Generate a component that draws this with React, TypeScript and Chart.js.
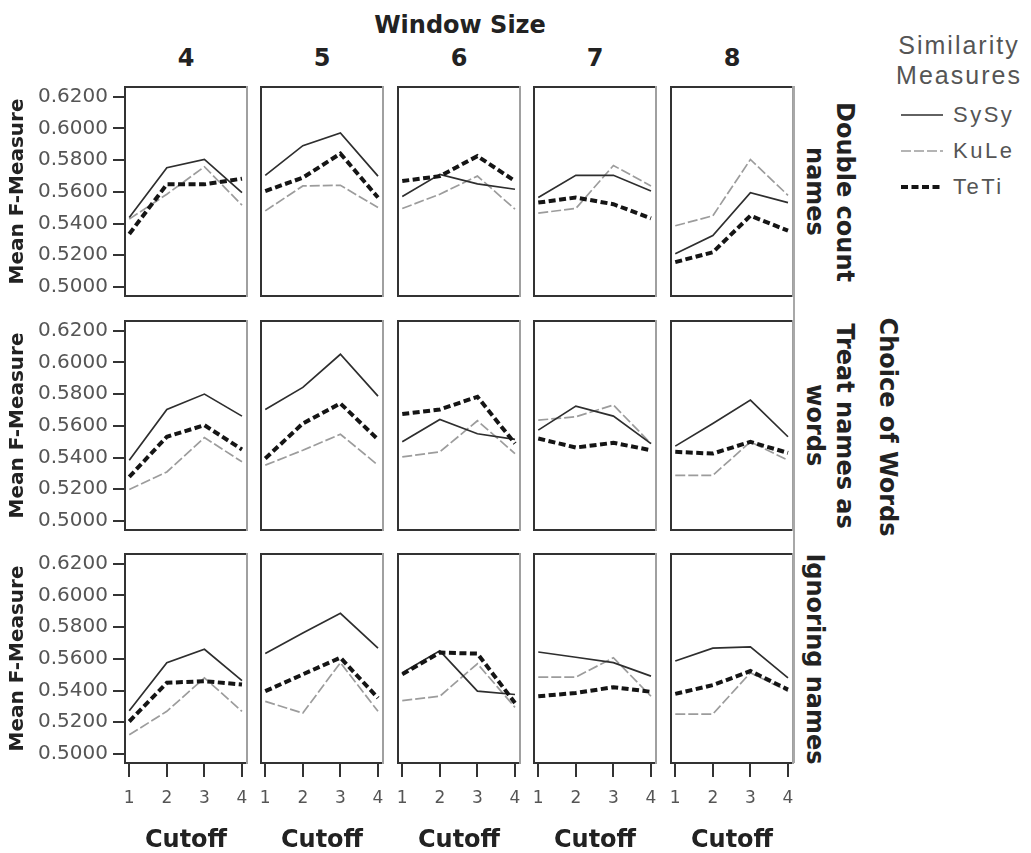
import React, { useEffect, useRef } from 'react';
import { Chart, registerables } from 'chart.js';

Chart.register(...registerables);

// ---------- data ----------
const CUTOFFS = [1, 2, 3, 4];
const WINDOW_SIZES = ['4', '5', '6', '7', '8'];
const ROW_LABELS = [['Double count', 'names'], ['Treat names as', 'words'], ['Ignoring names']];
const Y_TICKS = [0.5, 0.52, 0.54, 0.56, 0.58, 0.6, 0.62];
const SERIES_NAMES = ['SySy', 'KuLe', 'TeTi'];

// Double count names (one row of 4 cutoffs per window size 4..8)
const DOUBLE_SYSY = [
  [0.5438, 0.5752, 0.5804, 0.5595],
  [0.5704, 0.5891, 0.5971, 0.5699],
  [0.5570, 0.5710, 0.5650, 0.5616],
  [0.5564, 0.5704, 0.5704, 0.5605],
  [0.5209, 0.5324, 0.5595, 0.5532],
];
const DOUBLE_KULE = [
  [0.5428, 0.5585, 0.5758, 0.5516],
  [0.5480, 0.5637, 0.5641, 0.5501],
  [0.5495, 0.5585, 0.5699, 0.5491],
  [0.5466, 0.5495, 0.5766, 0.5637],
  [0.5386, 0.5449, 0.5804, 0.5578],
];
const DOUBLE_TETI = [
  [0.5334, 0.5647, 0.5647, 0.5683],
  [0.5605, 0.5689, 0.5841, 0.5564],
  [0.5668, 0.5699, 0.5825, 0.5668],
  [0.5532, 0.5564, 0.5522, 0.5432],
  [0.5157, 0.5219, 0.5449, 0.5355],
];

// Treat names as words
const TREAT_SYSY = [
  [0.5383, 0.5703, 0.5800, 0.5661],
  [0.5703, 0.5842, 0.6051, 0.5787],
  [0.5499, 0.5640, 0.5550, 0.5515],
  [0.5573, 0.5724, 0.5661, 0.5488],
  [0.5472, 0.5615, 0.5762, 0.5531],
];
const TREAT_KULE = [
  [0.5198, 0.5309, 0.5526, 0.5373],
  [0.5352, 0.5446, 0.5547, 0.5352],
  [0.5404, 0.5436, 0.5632, 0.5425],
  [0.5636, 0.5657, 0.5731, 0.5488],
  [0.5288, 0.5288, 0.5499, 0.5383],
];
const TREAT_TETI = [
  [0.5278, 0.5531, 0.5604, 0.5451],
  [0.5394, 0.5615, 0.5741, 0.5514],
  [0.5674, 0.5703, 0.5783, 0.5488],
  [0.5520, 0.5463, 0.5493, 0.5446],
  [0.5436, 0.5425, 0.5499, 0.5429],
];

// Ignoring names
const IGNORE_SYSY = [
  [0.5273, 0.5576, 0.5660, 0.5463],
  [0.5633, 0.5762, 0.5887, 0.5667],
  [0.5512, 0.5650, 0.5396, 0.5375],
  [0.5643, 0.5610, 0.5576, 0.5491],
  [0.5586, 0.5667, 0.5675, 0.5480],
];
const IGNORE_KULE = [
  [0.5121, 0.5269, 0.5480, 0.5269],
  [0.5332, 0.5258, 0.5576, 0.5269],
  [0.5337, 0.5364, 0.5569, 0.5294],
  [0.5485, 0.5485, 0.5607, 0.5364],
  [0.5252, 0.5252, 0.5512, 0.5396],
];
const IGNORE_TETI = [
  [0.5205, 0.5449, 0.5459, 0.5438],
  [0.5396, 0.5502, 0.5607, 0.5353],
  [0.5502, 0.5639, 0.5633, 0.5322],
  [0.5364, 0.5385, 0.5421, 0.5392],
  [0.5379, 0.5434, 0.5523, 0.5406],
];

const ROW_DATA = [
  [DOUBLE_SYSY, DOUBLE_KULE, DOUBLE_TETI],
  [TREAT_SYSY, TREAT_KULE, TREAT_TETI],
  [IGNORE_SYSY, IGNORE_KULE, IGNORE_TETI],
];

// ---------- layout / style ----------
const COL_LEFT = [124, 260, 397, 533, 670];
const ROW_TOP = [86, 320, 553];
const PANEL_W = 124;
const PANEL_H = 211;
const X_AXIS_H = 91;
const X_MIN = 0.86;
const X_MAX = 4.16;
const Y_MIN = 0.4937;
const Y_MAX = 0.6267;

const FONT = 'DejaVu Sans';
const SERIES_STYLE = [
  { color: '#2e2e2e', width: 1.7, dash: [] as number[], order: 1 },
  { color: '#9c9c9c', width: 1.7, dash: [10, 3], order: 2 },
  { color: '#151515', width: 4, dash: [7, 3.5], order: 0 },
];

const framePlugin = {
  id: 'panelFrame',
  afterDatasetsDraw(chart: any) {
    const { ctx, chartArea } = chart;
    const { left, top, right, bottom } = chartArea;
    ctx.save();
    ctx.lineWidth = 2;
    ctx.strokeStyle = '#a0a0a0';
    ctx.beginPath();
    ctx.moveTo(right - 1, top);
    ctx.lineTo(right - 1, bottom);
    ctx.stroke();
    ctx.strokeStyle = '#333333';
    ctx.beginPath();
    ctx.moveTo(right - 2, top + 1);
    ctx.lineTo(left + 1, top + 1);
    ctx.lineTo(left + 1, bottom - 1);
    ctx.lineTo(right - 2, bottom - 1);
    ctx.stroke();
    ctx.restore();
  },
};

function Panel({ row, col }: { row: number; col: number }) {
  const ref = useRef<HTMLCanvasElement>(null);
  const showY = col === 0;
  const showX = row === 2;
  const left = showY ? 0 : COL_LEFT[col];
  const top = ROW_TOP[row];
  const width = COL_LEFT[col] + PANEL_W - left;
  const height = PANEL_H + (showX ? X_AXIS_H : 0);

  useEffect(() => {
    const datasets = SERIES_NAMES.map((name, s) => ({
      label: name,
      data: CUTOFFS.map((c, i) => ({ x: c, y: ROW_DATA[row][s][col][i] })),
      borderColor: SERIES_STYLE[s].color,
      borderWidth: SERIES_STYLE[s].width,
      borderDash: SERIES_STYLE[s].dash,
      borderCapStyle: 'butt' as const,
      borderJoinStyle: 'miter' as const,
      pointRadius: 0,
      tension: 0,
      fill: false,
      order: SERIES_STYLE[s].order,
    }));
    const chart = new Chart(ref.current as HTMLCanvasElement, {
      type: 'line',
      data: { datasets },
      options: {
        animation: false,
        responsive: false,
        maintainAspectRatio: false,
        layout: { padding: 0 },
        plugins: { legend: { display: false }, tooltip: { enabled: false } },
        scales: {
          x: {
            type: 'linear',
            min: X_MIN,
            max: X_MAX,
            display: showX,
            afterBuildTicks: (s: any) => {
              s.ticks = CUTOFFS.map((v) => ({ value: v }));
            },
            afterFit: (s: any) => {
              if (!showX) return;
              s.height = X_AXIS_H;
              s.paddingLeft = 0;
              s.paddingRight = 0;
            },
            ticks: {
              autoSkip: false,
              maxRotation: 0,
              padding: 11,
              color: '#555',
              font: { family: FONT, size: 17 },
              callback: (v: any) => String(v),
            },
            grid: { drawOnChartArea: false, drawTicks: true, tickLength: 13, color: '#333', lineWidth: 2 },
            border: { display: false },
            title: {
              display: true,
              text: 'Cutoff',
              color: '#222',
              font: { family: FONT, size: 24, weight: 'bold' },
              padding: { top: 0, bottom: 0 },
            },
          },
          y: {
            type: 'linear',
            min: Y_MIN,
            max: Y_MAX,
            display: showY,
            afterBuildTicks: (s: any) => {
              s.ticks = Y_TICKS.map((v) => ({ value: v }));
            },
            afterFit: (s: any) => {
              if (!showY) return;
              s.width = COL_LEFT[0];
              s.paddingTop = 0;
              s.paddingBottom = 0;
            },
            ticks: {
              padding: 5,
              color: '#555',
              font: { family: FONT, size: 20 },
              callback: (v: any) => Number(v).toFixed(4),
            },
            grid: { drawOnChartArea: false, drawTicks: true, tickLength: 11, color: '#333', lineWidth: 2 },
            border: { display: false },
            title: {
              display: true,
              text: 'Mean F-Measure',
              color: '#222',
              font: { family: FONT, size: 20, weight: 'bold' },
              padding: { top: 6, bottom: 0 },
            },
          },
        },
      },
      plugins: [framePlugin],
    });
    return () => chart.destroy();
  }, [row, col]);

  return (
    <canvas
      ref={ref}
      width={width}
      height={height}
      style={{ position: 'absolute', left, top, width, height, display: 'block' }}
    />
  );
}

const boldText: React.CSSProperties = {
  position: 'absolute',
  fontFamily: FONT,
  fontWeight: 'bold',
  color: '#222',
  whiteSpace: 'nowrap',
  lineHeight: 1,
};

function LegendSample({ s }: { s: number }) {
  const st = SERIES_STYLE[s];
  return (
    <svg width={44} height={10} style={{ display: 'block' }}>
      <line
        x1={0}
        y1={5}
        x2={42}
        y2={5}
        stroke={st.color}
        strokeWidth={st.width}
        strokeDasharray={st.dash.length ? st.dash.join(' ') : undefined}
      />
    </svg>
  );
}

export default function App() {
  const panels: JSX.Element[] = [];
  for (let r = 0; r < 3; r++) {
    for (let c = 0; c < 5; c++) {
      panels.push(<Panel key={`${r}-${c}`} row={r} col={c} />);
    }
  }
  return (
    <div style={{ position: 'absolute', left: 0, top: 0, width: 1031, height: 853, background: '#fff', overflow: 'hidden' }}>
      {panels}
      {/* long right rule */}
      <div style={{ position: 'absolute', left: 793, top: 86, width: 2, height: 677, background: '#a8a8a8' }} />
      {/* Window size header */}
      <div style={{ ...boldText, fontSize: 24, left: 460, top: 25, transform: 'translate(-50%, -50%)' }}>Window Size</div>
      {WINDOW_SIZES.map((w, i) => (
        <div key={w} style={{ ...boldText, fontSize: 24, left: COL_LEFT[i] + PANEL_W / 2, top: 58, transform: 'translate(-50%, -50%)' }}>
          {w}
        </div>
      ))}
      {/* Row labels */}
      {ROW_LABELS.map((lines, r) => (
        <div
          key={r}
          style={{
            ...boldText,
            fontSize: 24,
            lineHeight: '30px',
            writingMode: 'vertical-rl',
            textAlign: 'center',
            left: 800,
            top: ROW_TOP[r] + PANEL_H / 2,
            transform: 'translateY(-50%)',
          }}
        >
          {lines.map((l, i) => (
            <React.Fragment key={i}>
              {l}
              {i < lines.length - 1 ? <br /> : null}
            </React.Fragment>
          ))}
        </div>
      ))}
      <div
        style={{
          ...boldText,
          fontSize: 24,
          lineHeight: '30px',
          writingMode: 'vertical-rl',
          left: 873,
          top: 427,
          transform: 'translateY(-50%)',
        }}
      >
        Choice of Words
      </div>
      {/* Legend */}
      <div
        style={{
          position: 'absolute',
          left: 959,
          top: 60,
          transform: 'translate(-50%, -50%)',
          fontFamily: 'Liberation Sans',
          fontSize: 25,
          letterSpacing: 2,
          lineHeight: '30px',
          color: '#555',
          textAlign: 'center',
          whiteSpace: 'nowrap',
        }}
      >
        Similarity
        <br />
        Measures
      </div>
      {SERIES_NAMES.map((n, s) => (
        <div
          key={n}
          style={{
            position: 'absolute',
            left: 901,
            top: 115 + s * 36,
            transform: 'translateY(-50%)',
            display: 'flex',
            alignItems: 'center',
            gap: 8,
            fontFamily: 'Liberation Sans',
            fontSize: 22,
            letterSpacing: 2.5,
            color: '#555',
            whiteSpace: 'nowrap',
          }}
        >
          <LegendSample s={s} />
          <span>{n}</span>
        </div>
      ))}
    </div>
  );
}
